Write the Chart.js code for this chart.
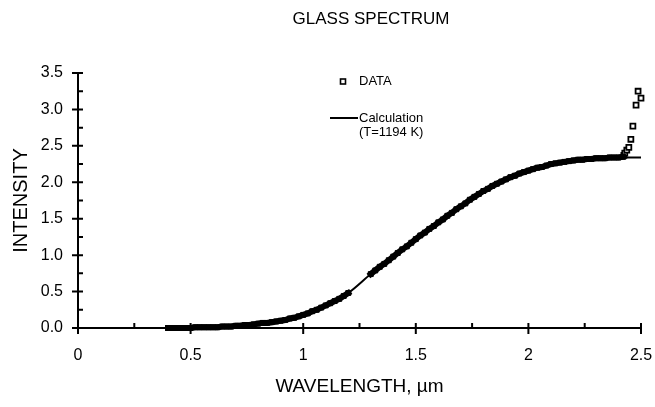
<!DOCTYPE html>
<html>
<head>
<meta charset="utf-8">
<script src="https://cdn.jsdelivr.net/npm/chart.js@4.4.0/dist/chart.umd.min.js"></script>
<style>
  html, body { margin: 0; padding: 0; background: #fff; }
  #wrap { width: 655px; height: 407px; }
</style>
</head>
<body>
<div id="wrap"><canvas id="myChart" width="655" height="407"></canvas></div>
<script>
'use strict';

// measured points (wavelength in um, intensity) - dense band, null = no data
let dataWl = [0.40,0.42,0.44,0.46,0.48,0.50,0.52,0.54,0.56,0.58,0.60,0.62,0.64,0.66,0.68,0.70,0.72,0.74,0.76,0.78,
  0.80,0.82,0.84,0.86,0.88,0.90,0.92,0.94,0.96,0.98,1.00,1.02,1.04,1.06,1.08,1.10,1.12,1.14,1.16,1.18,1.20,1.25,
  1.30,1.32,1.34,1.36,1.38,1.40,1.42,1.44,1.46,1.48,1.50,1.52,1.54,1.56,1.58,1.60,1.62,1.64,1.66,1.68,1.70,
  1.72,1.74,1.76,1.78,1.80,1.82,1.84,1.86,1.88,1.90,1.92,1.94,1.96,1.98,2.00,2.02,2.04,2.06,2.08,2.10,
  2.12,2.14,2.16,2.18,2.20,2.22,2.24,2.26,2.28,2.30,2.32,2.34,2.36,2.38,2.40,2.42];
let dataInt = [0.00,0.00,0.00,0.00,0.00,0.00,0.01,0.01,0.01,0.01,0.01,0.01,0.02,0.02,0.02,0.03,0.03,0.04,0.04,0.05,
  0.06,0.07,0.07,0.08,0.09,0.10,0.11,0.13,0.14,0.16,0.18,0.20,0.23,0.25,0.28,0.31,0.34,0.37,0.40,0.44,0.48,null,
  0.74,0.79,0.84,0.88,0.93,0.98,1.03,1.08,1.12,1.17,1.22,1.27,1.31,1.36,1.40,1.45,1.49,1.54,1.58,1.63,1.67,
  1.71,1.76,1.80,1.84,1.88,1.91,1.95,1.98,2.01,2.04,2.07,2.09,2.12,2.14,2.16,2.18,2.20,2.21,2.23,2.25,
  2.26,2.27,2.28,2.29,2.30,2.31,2.31,2.32,2.32,2.33,2.33,2.33,2.34,2.34,2.34,2.35];

// measured points at the long-wavelength end (drawn as open squares)
let tailWl = [2.424,2.428,2.437,2.446,2.455,2.464,2.478,2.487,2.50];
let tailInt = [2.37,2.40,2.44,2.48,2.59,2.77,3.06,3.25,3.155];

// calculated curve (T=1194 K)
let calcWl = [0.30,0.40,0.50,0.60,0.70,0.80,0.90,1.00,1.10,1.20,1.30,1.40,1.50,1.60,1.70,1.80,1.90,2.00,2.10,2.20,2.30,2.40,2.50];
let calcInt = [0.00,0.001,0.004,0.012,0.03,0.06,0.10,0.18,0.31,0.48,0.74,0.98,1.22,1.45,1.67,1.88,2.04,2.16,2.25,2.30,2.33,2.34,2.34];

let xTicks = [0, 0.5, 1, 1.5, 2, 2.5];
let yTicks = [0, 0.5, 1, 1.5, 2, 2.5, 3, 3.5];

function toPoints(xs, ys){
  let pts = [];
  for(let i = 0; i < xs.length; i++){
    pts.push({x: xs[i], y: ys[i]});
  }
  return pts;
}

// crossing tick marks, title and legend like the original plot
let extras = {
  id: 'extras',
  afterDraw(chart){
    let ctx = chart.ctx;
    let xs = chart.scales.x;
    let ys = chart.scales.y;
    let y0 = ys.getPixelForValue(0);
    let x0 = xs.getPixelForValue(0);
    ctx.save();
    ctx.strokeStyle = '#000';
    ctx.lineWidth = 2;
    ctx.beginPath();
    for(let v = 0; v <= 2.5001; v += 0.25){
      let px = xs.getPixelForValue(v);
      let major = Math.abs(v / 0.5 - Math.round(v / 0.5)) < 0.001;
      ctx.moveTo(px, y0 - 5);
      ctx.lineTo(px, major ? y0 + 6 : y0);
    }
    for(let v = 0; v <= 3.5001; v += 0.25){
      let py = ys.getPixelForValue(v);
      let major = Math.abs(v / 0.5 - Math.round(v / 0.5)) < 0.001;
      ctx.moveTo(major ? x0 - 6 : x0, py);
      ctx.lineTo(x0 + 5, py);
    }
    ctx.stroke();

    ctx.fillStyle = '#000';
    ctx.textBaseline = 'middle';
    ctx.textAlign = 'center';
    ctx.font = '17px "Liberation Sans", Arial, sans-serif';
    ctx.fillText('GLASS SPECTRUM', 371, 19);

    // legend
    ctx.textAlign = 'left';
    ctx.font = '13px "Liberation Sans", Arial, sans-serif';
    ctx.lineWidth = 1.6;
    ctx.fillStyle = '#fff';
    ctx.fillRect(340.5, 79, 5, 5);
    ctx.strokeRect(340.5, 79, 5, 5);
    ctx.fillStyle = '#000';
    ctx.fillText('DATA', 359, 81);
    ctx.lineWidth = 2;
    ctx.beginPath();
    ctx.moveTo(330, 118);
    ctx.lineTo(358, 118);
    ctx.stroke();
    ctx.fillText('Calculation', 359, 118);
    ctx.fillText('(T=1194 K)', 359, 132);
    ctx.restore();
  }
};

let ctx = document.getElementById('myChart').getContext('2d');
let chart = new Chart(ctx, {
  type: 'scatter',
  data: {
    datasets: [{
      label: 'DATA',
      data: toPoints(dataWl, dataInt),
      pointStyle: 'rect',
      pointRadius: 3.5,
      pointBorderWidth: 1,
      pointBorderColor: '#000',
      pointBackgroundColor: '#000',
      showLine: true,
      spanGaps: false,
      borderColor: '#000',
      borderWidth: 6,
      borderCapStyle: 'square',
      clip: false
    }, {
      label: 'DATA',
      data: toPoints(tailWl, tailInt),
      pointStyle: 'rect',
      pointRadius: 3.5,
      pointBorderWidth: 1.8,
      pointBorderColor: '#000',
      pointBackgroundColor: '#fff',
      showLine: false,
      clip: false
    }, {
      label: 'Calculation (T=1194 K)',
      data: toPoints(calcWl, calcInt),
      showLine: true,
      borderColor: '#000',
      borderWidth: 2,
      pointRadius: 0,
      cubicInterpolationMode: 'monotone',
      clip: false
    }]
  },
  options: {
    responsive: false,
    animation: false,
    layout: { padding: { top: 73, right: 14, left: 0, bottom: 0 } },
    plugins: {
      legend: { display: false },
      tooltip: { enabled: false }
    },
    scales: {
      x: {
        type: 'linear',
        min: 0,
        max: 2.5,
        afterFit: function(scale){
          scale.height = 79;
          scale.paddingLeft = 0;
          scale.paddingRight = 0;
        },
        afterBuildTicks: function(scale){ scale.ticks = xTicks.map(v => ({value: v})); },
        grid: { display: false, drawTicks: false },
        border: { display: true, color: '#000', width: 2 },
        ticks: {
          color: '#000',
          padding: 18,
          font: { family: '"Liberation Sans", Arial, sans-serif', size: 16 },
          callback: v => String(v)
        },
        title: {
          display: true,
          text: 'WAVELENGTH, \u00b5m',
          color: '#000',
          font: { family: '"Liberation Sans", Arial, sans-serif', size: 19 },
          padding: { top: 0, bottom: 9 }
        }
      },
      y: {
        type: 'linear',
        min: 0,
        max: 3.5,
        afterFit: function(scale){
          scale.width = 78;
          scale.paddingTop = 0;
          scale.paddingBottom = 0;
        },
        afterBuildTicks: function(scale){ scale.ticks = yTicks.map(v => ({value: v})); },
        grid: { display: false, drawTicks: false },
        border: { display: true, color: '#000', width: 2 },
        ticks: {
          color: '#000',
          padding: 15,
          font: { family: '"Liberation Sans", Arial, sans-serif', size: 16 },
          callback: v => v.toFixed(1)
        },
        title: {
          display: true,
          text: 'INTENSITY',
          color: '#000',
          font: { family: '"Liberation Sans", Arial, sans-serif', size: 20 },
          padding: { top: 9, bottom: 0 }
        }
      }
    }
  },
  plugins: [extras]
});
</script>
</body>
</html>
